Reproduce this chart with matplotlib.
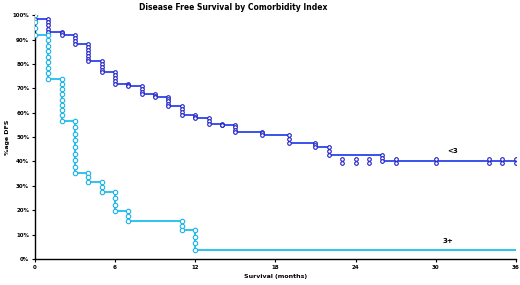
import numpy as np
import matplotlib.pyplot as plt

# Kaplan-Meier steps (months, % disease free after drop)
low_times = [0, 1, 2, 3, 4, 5, 6, 7, 8, 9, 10, 11, 12, 13, 14, 15, 17, 19, 21, 22, 26]
low_surv = [98.4, 93.2, 91.8, 88.0, 81.0, 76.5, 71.7, 70.9, 67.5, 66.5, 62.7, 59.0,
            57.7, 55.3, 54.8, 52.2, 50.8, 47.7, 46.0, 42.6, 40.3]
low_marks = [1, 4, 2, 3, 6, 4, 4, 2, 3, 2, 4, 3, 2, 2, 2, 3, 2, 2, 2, 2, 2]
low_cens = [23, 24, 25, 27, 30, 34, 35, 36]

high_times = [0, 1, 2, 3, 4, 5, 6, 7, 11, 12]
high_surv = [92.0, 74.0, 56.7, 35.2, 31.7, 27.6, 19.7, 15.6, 11.9, 3.7]
high_marks = [3, 8, 8, 8, 2, 2, 3, 2, 2, 3]
high_cens = []

x_ticks = [0, 6, 12, 18, 24, 30, 36]
y_ticks = list(range(0, 101, 10))


def km_plot(ax, times, surv, marks, cens, color, edge, ms, end=36):
    xs, ys = [0], [100.0]
    prev = 100.0
    mx, my = [], []
    for t, s, n in zip(times, surv, marks):
        xs += [t, t]
        ys += [prev, s]
        pts = np.linspace(prev, s, n + 1)
        mx += [t] * len(pts)
        my += list(pts)
        prev = s
    xs.append(end)
    ys.append(prev)
    ax.plot(xs, ys, color=color, lw=1.3, zorder=2)
    for c in cens:
        mx += [c, c]
        my += [prev + 0.8, prev - 0.8]
    ax.plot(mx, my, 'o', ms=ms, mfc='white', mec=edge, mew=0.8, ls='none', zorder=3)


fig = plt.figure(figsize=(5.2, 2.85), dpi=100)
ax = fig.add_axes([0.067, 0.091, 0.925, 0.856])

km_plot(ax, low_times, low_surv, low_marks, low_cens, '#2a44ea', '#2020c8', 2.6)
km_plot(ax, high_times, high_surv, high_marks, high_cens, '#1ebfee', '#1ab4e6', 3.2)

ax.text(31.3, 44.4, '<3', fontsize=5, fontweight='bold', ha='center', va='center')
ax.text(30.9, 7.5, '3+', fontsize=5, fontweight='bold', ha='center', va='center')

ax.set_xlim(0, 36)
ax.set_ylim(0, 100)
ax.set_xticks(x_ticks)
ax.set_yticks(y_ticks)
ax.set_yticklabels([f'{v}%' for v in y_ticks])
ax.tick_params(labelsize=4, length=2, width=0.8, pad=2)
for lab in ax.get_xticklabels() + ax.get_yticklabels():
    lab.set_fontweight('bold')
ax.spines['top'].set_visible(False)
ax.spines['right'].set_visible(False)
ax.spines['left'].set_linewidth(1)
ax.spines['bottom'].set_linewidth(1)

ax.set_xlabel('Survival (months)', fontsize=4.5, fontweight='bold', labelpad=3)
ax.set_ylabel('%age DFS', fontsize=4.5, fontweight='bold', labelpad=2)
fig.text(0.448, 0.99, 'Disease Free Survival by Comorbidity Index', fontsize=5.5,
         fontweight='bold', ha='center', va='top')

fig.savefig('out.png', dpi=100)
